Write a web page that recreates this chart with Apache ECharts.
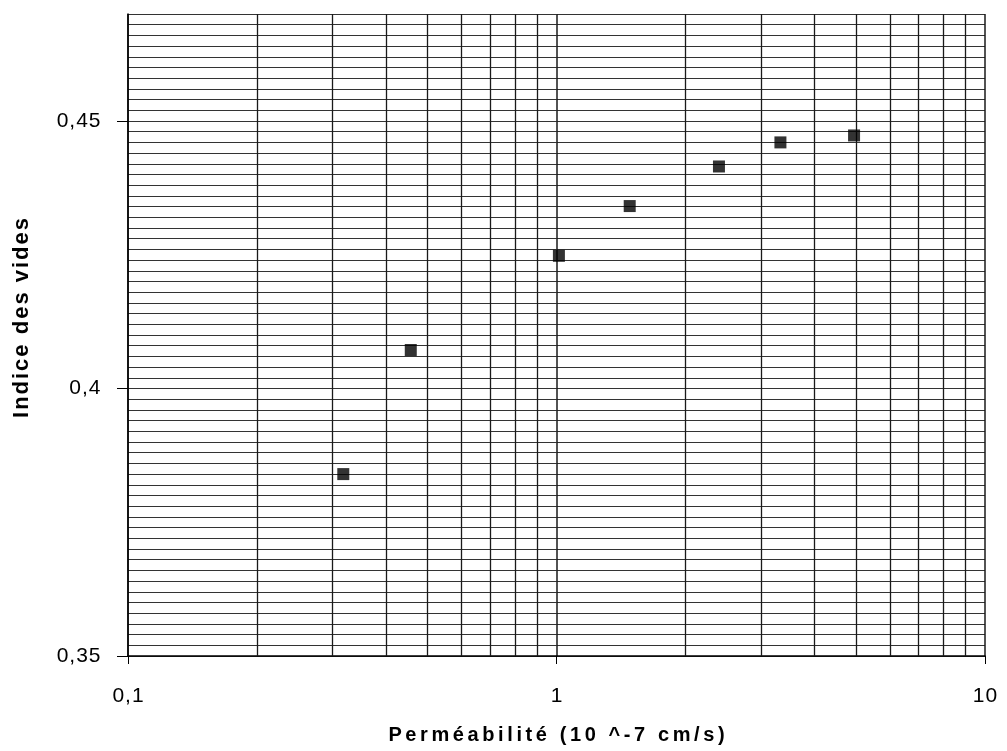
<!DOCTYPE html>
<html>
<head>
<meta charset="utf-8">
<script src="https://cdn.jsdelivr.net/npm/echarts@6/dist/echarts.min.js"></script>
<style>
  html, body { margin: 0; padding: 0; background: #fff; }
  #chart { width: 1007px; height: 751px; }
</style>
</head>
<body>
<div id="chart"></div>
<script>
// Perméabilité (10^-7 cm/s) versus indice des vides
const permeabilite = [0.318, 0.457, 1.013, 1.482, 2.394, 3.331, 4.948];
const indiceVides = [0.3840, 0.4072, 0.4248, 0.4341, 0.4415, 0.4460, 0.4473];

// Axis ranges and tick values
const xRange = [0.1, 10];
const yRange = [0.35, 0.47];
const yMajorTicks = [0.35, 0.4, 0.45];
const yMinorStep = 0.002;
// Logarithmic minor grid lines (2..9 of each decade)
const xMinorLines = [0.2, 0.3, 0.4, 0.5, 0.6, 0.7, 0.8, 0.9, 2, 3, 4, 5, 6, 7, 8, 9];

const xTitle = 'Perméabilité (10 ^-7 cm/s)';
const yTitle = 'Indice des vides';

const gridColor = '#333';
const vGridColor = '#1a1a1a';
const fontFamily = '"Liberation Sans", Arial, sans-serif';

// Wraps each character in a rich-text token so the text gets letter spacing
function spaced(str, key) {
  return Array.from(str).map(c => '{' + key + '|' + c + '}').join('');
}
const decimalComma = v => String(+(+v).toFixed(2)).replace('.', ',');

const points = permeabilite.map((x, i) => [x, indiceVides[i]]);

const tickRich = { t: { fontFamily, fontSize: 21, color: '#000', padding: [0, 0.5, 0, 0.5] } };

const chart = echarts.init(document.getElementById('chart'), null, { renderer: 'canvas' });

chart.setOption({
  animation: false,
  backgroundColor: '#fff',
  grid: { left: 128, right: 22, top: 14, bottom: 95, containLabel: false },
  xAxis: {
    type: 'log',
    logBase: 10,
    min: xRange[0],
    max: xRange[1],
    name: spaced(xTitle, 'n'),
    nameLocation: 'middle',
    nameGap: 69,
    nameTextStyle: {
      rich: { n: { fontFamily, fontSize: 20, fontWeight: 'bold', color: '#000', padding: [0, 1.8, 0, 1.8] } }
    },
    axisLine: { show: true, lineStyle: { color: '#000', width: 1.5 } },
    axisTick: { show: true, inside: false, length: 8, lineStyle: { color: '#000' } },
    axisLabel: {
      margin: 30,
      rich: tickRich,
      formatter: v => spaced(decimalComma(v), 't')
    },
    splitLine: { show: true, lineStyle: { color: vGridColor, width: 1.5 } },
    minorTick: { show: false },
    minorSplitLine: { show: false }
  },
  yAxis: [
    {
      type: 'value',
      min: yRange[0],
      max: yRange[1],
      interval: 0.05,
      name: spaced(yTitle, 'n'),
      nameLocation: 'middle',
      nameGap: 95,
      nameTextStyle: {
        padding: [0, 0, 0, 34],
        rich: { n: { fontFamily, fontSize: 22, fontWeight: 'bold', color: '#000', padding: [0, 1, 0, 1] } }
      },
      axisLine: { show: true, lineStyle: { color: '#000', width: 1.5 } },
      axisTick: { show: true, inside: false, length: 11, customValues: yMajorTicks, lineStyle: { color: '#000' } },
      axisLabel: {
        margin: 27,
        customValues: yMajorTicks,
        rich: tickRich,
        formatter: v => spaced(decimalComma(v), 't')
      },
      splitLine: { show: false }
    },
    {
      // fine horizontal grid, every 0.002
      type: 'value',
      min: yRange[0],
      max: yRange[1],
      interval: yMinorStep,
      position: 'left',
      axisLine: { show: false },
      axisTick: { show: false },
      axisLabel: { show: false },
      splitLine: { show: true, lineStyle: { color: gridColor, width: 1 } }
    }
  ],
  series: [
    {
      type: 'scatter',
      yAxisIndex: 0,
      data: points,
      symbol: 'rect',
      symbolSize: 12,
      itemStyle: { color: '#000' },
      z: 10,
      markLine: {
        silent: true,
        symbol: ['none', 'none'],
        label: { show: false },
        lineStyle: { color: vGridColor, width: 1.3, type: 'solid' },
        data: xMinorLines.map(v => ({ xAxis: v }))
      }
    }
  ]
});
</script>
</body>
</html>
